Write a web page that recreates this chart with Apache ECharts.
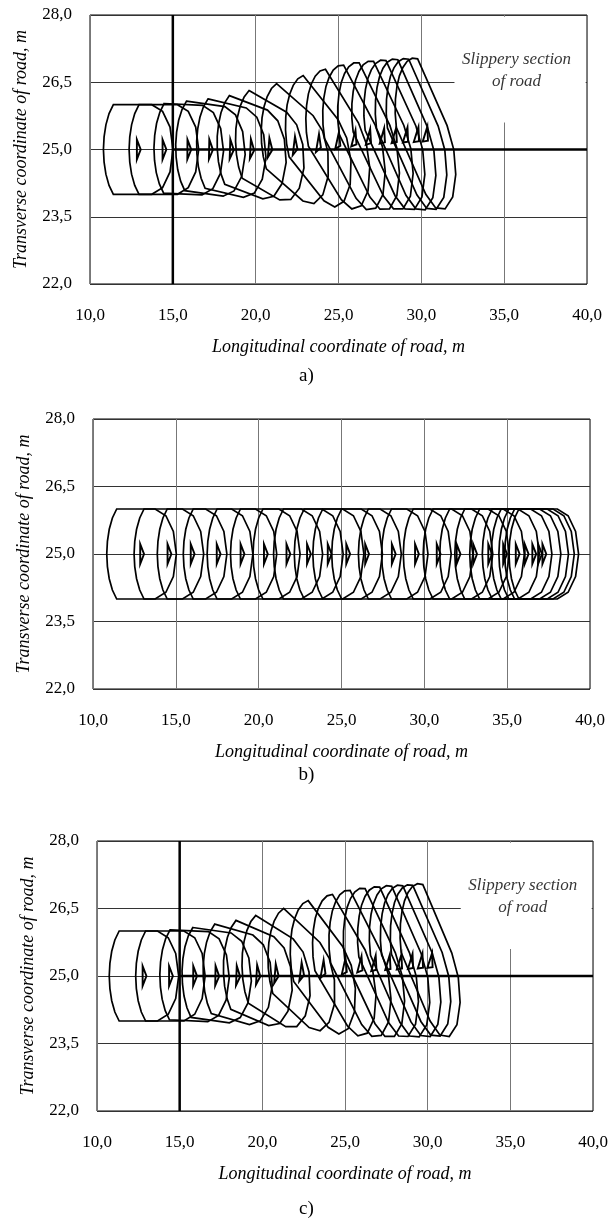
<!DOCTYPE html>
<html>
<head>
<meta charset="utf-8">
<script src="https://cdn.jsdelivr.net/npm/echarts@6/dist/echarts.min.js"></script>
<style>
  html, body { margin: 0; padding: 0; background: #fff; }
  #chart { width: 613px; height: 1220px; }
</style>
</head>
<body>
<div id="chart"></div>
<script>
  // axis ticks
  const xTicks = [10, 15, 20, 25, 30, 35, 40]
  const yTicks = [22, 23.5, 25, 26.5, 28]

  // a) vehicle centre positions (m) and yaw (deg, clockwise)
  const aX = [12.93, 14.48, 15.98, 17.29, 18.55, 19.78, 20.88, 22.4, 23.82, 25.0, 25.98, 26.86, 27.7, 28.42, 29.1, 29.76, 30.3]
  const aY = [25, 25, 25, 25, 25, 25, 25.02, 25.05, 25.1, 25.15, 25.19, 25.22, 25.24, 25.25, 25.26, 25.27, 25.28]
  const aYaw = [0, 0, 1, 3, 5, 8, 12, 18, 25, 31, 35, 37, 38, 39, 40, 40, 40]

  // b) dry road, straight braking
  const bX = [12.95, 14.6, 16.0, 17.57, 19.01, 20.42, 21.78, 23.02, 24.27, 25.39, 26.53, 28.14, 29.54, 30.85, 32.05, 33.05, 33.96, 34.86, 35.62, 36.16, 36.62, 36.97, 37.23]
  const bY = [25, 25, 25, 25, 25, 25, 25, 25, 25, 25, 25, 25, 25, 25, 25, 25, 25, 25, 25, 25, 25, 25, 25]
  const bYaw = [0, 0, 0, 0, 0, 0, 0, 0, 0, 0, 0, 0, 0, 0, 0, 0, 0, 0, 0, 0, 0, 0, 0]

  // c)
  const cX = [12.86, 14.46, 15.92, 17.26, 18.53, 19.75, 20.86, 22.4, 23.7, 25.0, 25.95, 26.8, 27.65, 28.35, 29.02, 29.62, 30.2]
  const cY = [25, 25, 25, 25, 25, 25.01, 25.03, 25.06, 25.11, 25.16, 25.2, 25.22, 25.24, 25.25, 25.26, 25.27, 25.28]
  const cYaw = [0, 0, 1, 3, 6, 9, 13, 19, 26, 32, 36, 38, 39, 40, 40, 40, 41]

  // slippery section boundary and its label
  const slipX = 15
  const slipY = 25
  const slipLabel = 'Slippery section\nof road'

  // vehicle contour in its own frame (m): rounded rear, faceted front
  const body = [[-1.52, 1], [0.8, 1], [1.45, 0.85], [1.9, 0.5], [2.08, 0], [1.9, -0.5], [1.45, -0.85], [0.8, -1],
    [-1.52, -1], [-1.78, -0.8], [-1.97, -0.55], [-2.08, -0.28], [-2.12, 0], [-2.08, 0.28], [-1.97, 0.55], [-1.78, 0.8]]
  const marker = [[-0.1, 0.22], [0.13, 0], [-0.1, -0.22]]

  const serif = 'Liberation Serif'
  const fmt = v => v.toFixed(1).replace('.', ',')

  function renderVehicle (params, api) {
    const cx = api.value(0), cy = api.value(1), a = api.value(2) * Math.PI / 180
    const c = Math.cos(a), s = Math.sin(a)
    const place = p => api.coord([cx + p[0] * c + p[1] * s, cy - p[0] * s + p[1] * c])
    return {
      type: 'group',
      children: [
        { type: 'polygon', shape: { points: body.map(place) }, style: { fill: 'none', stroke: '#000', lineWidth: 1.7 } },
        { type: 'polygon', shape: { points: marker.map(place) }, style: { fill: 'none', stroke: '#000', lineWidth: 1.9 } }
      ]
    }
  }

  const grids = [
    { left: 90, top: 15, width: 497, height: 269 },
    { left: 93, top: 419, width: 497, height: 270 },
    { left: 97, top: 841, width: 496, height: 270 }
  ]

  const xAxes = grids.map((g, i) => ({
    type: 'value',
    gridIndex: i,
    min: xTicks[0],
    max: xTicks[xTicks.length - 1],
    interval: 5,
    axisLine: { show: false },
    axisTick: { show: false },
    splitLine: { lineStyle: { color: '#777', width: 1 } },
    axisLabel: { formatter: fmt, fontFamily: serif, fontSize: 17, color: '#000', margin: 23 },
    name: 'Longitudinal coordinate of road, m',
    nameLocation: 'middle',
    nameGap: 54,
    nameTextStyle: { fontFamily: serif, fontStyle: 'italic', fontSize: 18, color: '#000' }
  }))

  const yAxes = grids.map((g, i) => ({
    type: 'value',
    gridIndex: i,
    min: yTicks[0],
    max: yTicks[yTicks.length - 1],
    axisLine: { show: false },
    axisTick: { show: false, customValues: yTicks },
    splitLine: { lineStyle: { color: '#333', width: 1 } },
    axisLabel: { customValues: yTicks, formatter: fmt, fontFamily: serif, fontSize: 17, color: '#000', margin: 18 },
    name: 'Transverse coordinate of road, m',
    nameLocation: 'middle',
    nameRotate: 90,
    nameGap: 60,
    nameTextStyle: { fontFamily: serif, fontStyle: 'italic', fontSize: 18, color: '#000' }
  }))

  function vehicles (i, xs, ys, yaws) {
    return {
      type: 'custom',
      xAxisIndex: i,
      yAxisIndex: i,
      z: 5,
      silent: true,
      renderItem: renderVehicle,
      encode: { x: 0, y: 1 },
      data: xs.map((x, k) => [x, ys[k], yaws[k]])
    }
  }

  function slippery (i) {
    const yMin = yTicks[0], yMax = yTicks[yTicks.length - 1], xMax = xTicks[xTicks.length - 1]
    return [
      { type: 'line', xAxisIndex: i, yAxisIndex: i, z: 4, silent: true, symbol: 'none',
        lineStyle: { color: '#000', width: 2.5 }, data: [[slipX, yMin], [slipX, yMax]] },
      { type: 'line', xAxisIndex: i, yAxisIndex: i, z: 4, silent: true, symbol: 'none',
        lineStyle: { color: '#000', width: 2.5 }, data: [[slipX, slipY], [xMax, slipY]] },
      { type: 'scatter', xAxisIndex: i, yAxisIndex: i, z: 3, silent: true, symbolSize: 0,
        data: [[35.75, 26.76]],
        label: { show: true, position: 'inside', formatter: slipLabel, fontFamily: serif, fontStyle: 'italic',
          fontSize: 17, lineHeight: 22, color: '#000' },
        markArea: { silent: true, itemStyle: { color: '#fff' }, data: [[{ coord: [32, 25.6] }, { coord: [39.92, 27.96] }]] } }
    ]
  }

  const chart = echarts.init(document.getElementById('chart'))
  chart.setOption({
    animation: false,
    backgroundColor: '#fff',
    title: ['a)', 'b)', 'c)'].map((t, i) => ({
      text: t,
      left: 'center',
      top: [362, 761, 1195][i],
      textStyle: { fontFamily: serif, fontWeight: 'normal', fontSize: 19, color: '#000' }
    })),
    grid: grids.map(g => Object.assign({ show: true, borderColor: '#000', borderWidth: 1 }, g)),
    xAxis: xAxes,
    yAxis: yAxes,
    series: [
      vehicles(0, aX, aY, aYaw),
      ...slippery(0),
      vehicles(1, bX, bY, bYaw),
      vehicles(2, cX, cY, cYaw),
      ...slippery(2)
    ]
  })
</script>
</body>
</html>
